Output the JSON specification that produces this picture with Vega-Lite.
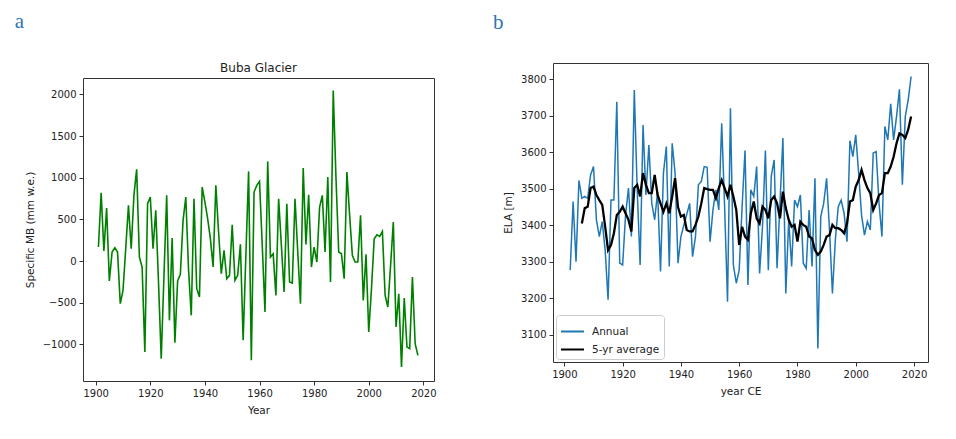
{
  "$schema": "https://vega.github.io/schema/vega-lite/v6.json",
  "background": "white",
  "padding": {"left": 14, "top": 10, "right": 0, "bottom": 0},
  "spacing": 56,
  "resolve": {"legend": {"color": "independent"}, "scale": {"color": "independent"}},
  "datasets": {
    "mb": [
      {"year":1901,"mb":168},{"year":1902,"mb":820},{"year":1903,"mb":120},{"year":1904,"mb":636},{"year":1905,"mb":-240},{"year":1906,"mb":108},{"year":1907,"mb":160},{"year":1908,"mb":108},{"year":1909,"mb":-512},{"year":1910,"mb":-352},
      {"year":1911,"mb":150},{"year":1912,"mb":668},{"year":1913,"mb":148},{"year":1914,"mb":788},{"year":1915,"mb":1100},{"year":1916,"mb":48},{"year":1917,"mb":-72},{"year":1918,"mb":-1092},{"year":1919,"mb":688},{"year":1920,"mb":768},
      {"year":1921,"mb":148},{"year":1922,"mb":608},{"year":1923,"mb":-250},{"year":1924,"mb":-1172},{"year":1925,"mb":-180},{"year":1926,"mb":788},{"year":1927,"mb":-712},{"year":1928,"mb":276},{"year":1929,"mb":-980},{"year":1930,"mb":-240},
      {"year":1931,"mb":-160},{"year":1932,"mb":488},{"year":1933,"mb":768},{"year":1934,"mb":-100},{"year":1935,"mb":-652},{"year":1936,"mb":748},{"year":1937,"mb":-332},{"year":1938,"mb":-432},{"year":1939,"mb":888},{"year":1940,"mb":708},
      {"year":1941,"mb":508},{"year":1942,"mb":268},{"year":1943,"mb":-72},{"year":1944,"mb":908},{"year":1945,"mb":348},{"year":1946,"mb":-152},{"year":1947,"mb":128},{"year":1948,"mb":-212},{"year":1949,"mb":-172},{"year":1950,"mb":436},
      {"year":1951,"mb":-232},{"year":1952,"mb":-172},{"year":1953,"mb":200},{"year":1954,"mb":-952},{"year":1955,"mb":68},{"year":1956,"mb":1076},{"year":1957,"mb":-1192},{"year":1958,"mb":828},{"year":1959,"mb":908},{"year":1960,"mb":956},
      {"year":1961,"mb":188},{"year":1962,"mb":-612},{"year":1963,"mb":1196},{"year":1964,"mb":48},{"year":1965,"mb":88},{"year":1966,"mb":-412},{"year":1967,"mb":748},{"year":1968,"mb":188},{"year":1969,"mb":-372},{"year":1970,"mb":688},
      {"year":1971,"mb":-252},{"year":1972,"mb":-264},{"year":1973,"mb":748},{"year":1974,"mb":108},{"year":1975,"mb":-512},{"year":1976,"mb":1116},{"year":1977,"mb":200},{"year":1978,"mb":796},{"year":1979,"mb":-72},{"year":1980,"mb":168},
      {"year":1981,"mb":-12},{"year":1982,"mb":648},{"year":1983,"mb":788},{"year":1984,"mb":108},{"year":1985,"mb":1008},{"year":1986,"mb":-252},{"year":1987,"mb":2048},{"year":1988,"mb":1000},{"year":1989,"mb":108},{"year":1990,"mb":88},
      {"year":1991,"mb":-212},{"year":1992,"mb":1068},{"year":1993,"mb":548},{"year":1994,"mb":68},{"year":1995,"mb":-12},{"year":1996,"mb":-12},{"year":1997,"mb":548},{"year":1998,"mb":-472},{"year":1999,"mb":80},{"year":2000,"mb":-852},
      {"year":2001,"mb":-332},{"year":2002,"mb":268},{"year":2003,"mb":316},{"year":2004,"mb":296},{"year":2005,"mb":356},{"year":2006,"mb":-412},{"year":2007,"mb":-552},{"year":2008,"mb":-52},{"year":2009,"mb":468},{"year":2010,"mb":-792},
      {"year":2011,"mb":-392},{"year":2012,"mb":-1272},{"year":2013,"mb":-444},{"year":2014,"mb":-1032},{"year":2015,"mb":-1052},{"year":2016,"mb":-192},{"year":2017,"mb":-992},{"year":2018,"mb":-1132}
    ],
    "ela": [
      {"year":1902,"ela":3277,"series":"Annual"},{"year":1903,"ela":3465,"series":"Annual"},{"year":1904,"ela":3300,"series":"Annual"},{"year":1905,"ela":3523,"series":"Annual"},{"year":1906,"ela":3474,"series":"Annual"},{"year":1907,"ela":3479,"series":"Annual"},{"year":1908,"ela":3474,"series":"Annual"},{"year":1909,"ela":3538,"series":"Annual"},{"year":1910,"ela":3561,"series":"Annual"},
      {"year":1911,"ela":3415,"series":"Annual"},{"year":1912,"ela":3369,"series":"Annual"},{"year":1913,"ela":3410,"series":"Annual"},{"year":1914,"ela":3332,"series":"Annual"},{"year":1915,"ela":3196,"series":"Annual"},{"year":1916,"ela":3469,"series":"Annual"},{"year":1917,"ela":3469,"series":"Annual"},{"year":1918,"ela":3739,"series":"Annual"},{"year":1919,"ela":3296,"series":"Annual"},{"year":1920,"ela":3291,"series":"Annual"},
      {"year":1921,"ela":3428,"series":"Annual"},{"year":1922,"ela":3502,"series":"Annual"},{"year":1923,"ela":3369,"series":"Annual"},{"year":1924,"ela":3771,"series":"Annual"},{"year":1925,"ela":3497,"series":"Annual"},{"year":1926,"ela":3291,"series":"Annual"},{"year":1927,"ela":3675,"series":"Annual"},{"year":1928,"ela":3483,"series":"Annual"},{"year":1929,"ela":3620,"series":"Annual"},{"year":1930,"ela":3460,"series":"Annual"},
      {"year":1931,"ela":3415,"series":"Annual"},{"year":1932,"ela":3492,"series":"Annual"},{"year":1933,"ela":3273,"series":"Annual"},{"year":1934,"ela":3543,"series":"Annual"},{"year":1935,"ela":3616,"series":"Annual"},{"year":1936,"ela":3287,"series":"Annual"},{"year":1937,"ela":3625,"series":"Annual"},{"year":1938,"ela":3543,"series":"Annual"},{"year":1939,"ela":3296,"series":"Annual"},{"year":1940,"ela":3369,"series":"Annual"},
      {"year":1941,"ela":3400,"series":"Annual"},{"year":1942,"ela":3430,"series":"Annual"},{"year":1943,"ela":3460,"series":"Annual"},{"year":1944,"ela":3314,"series":"Annual"},{"year":1945,"ela":3369,"series":"Annual"},{"year":1946,"ela":3511,"series":"Annual"},{"year":1947,"ela":3520,"series":"Annual"},{"year":1948,"ela":3561,"series":"Annual"},{"year":1949,"ela":3559,"series":"Annual"},{"year":1950,"ela":3355,"series":"Annual"},
      {"year":1951,"ela":3442,"series":"Annual"},{"year":1952,"ela":3497,"series":"Annual"},{"year":1953,"ela":3442,"series":"Annual"},{"year":1954,"ela":3680,"series":"Annual"},{"year":1955,"ela":3451,"series":"Annual"},{"year":1956,"ela":3190,"series":"Annual"},{"year":1957,"ela":3721,"series":"Annual"},{"year":1958,"ela":3291,"series":"Annual"},{"year":1959,"ela":3241,"series":"Annual"},{"year":1960,"ela":3277,"series":"Annual"},
      {"year":1961,"ela":3451,"series":"Annual"},{"year":1962,"ela":3605,"series":"Annual"},{"year":1963,"ela":3236,"series":"Annual"},{"year":1964,"ela":3497,"series":"Annual"},{"year":1965,"ela":3479,"series":"Annual"},{"year":1966,"ela":3561,"series":"Annual"},{"year":1967,"ela":3268,"series":"Annual"},{"year":1968,"ela":3396,"series":"Annual"},{"year":1969,"ela":3605,"series":"Annual"},{"year":1970,"ela":3277,"series":"Annual"},
      {"year":1971,"ela":3534,"series":"Annual"},{"year":1972,"ela":3579,"series":"Annual"},{"year":1973,"ela":3282,"series":"Annual"},{"year":1974,"ela":3460,"series":"Annual"},{"year":1975,"ela":3639,"series":"Annual"},{"year":1976,"ela":3213,"series":"Annual"},{"year":1977,"ela":3415,"series":"Annual"},{"year":1978,"ela":3287,"series":"Annual"},{"year":1979,"ela":3469,"series":"Annual"},{"year":1980,"ela":3451,"series":"Annual"},
      {"year":1981,"ela":3483,"series":"Annual"},{"year":1982,"ela":3296,"series":"Annual"},{"year":1983,"ela":3282,"series":"Annual"},{"year":1984,"ela":3442,"series":"Annual"},{"year":1985,"ela":3287,"series":"Annual"},{"year":1986,"ela":3529,"series":"Annual"},{"year":1987,"ela":3062,"series":"Annual"},{"year":1988,"ela":3424,"series":"Annual"},{"year":1989,"ela":3460,"series":"Annual"},{"year":1990,"ela":3529,"series":"Annual"},
      {"year":1991,"ela":3387,"series":"Annual"},{"year":1992,"ela":3213,"series":"Annual"},{"year":1993,"ela":3360,"series":"Annual"},{"year":1994,"ela":3451,"series":"Annual"},{"year":1995,"ela":3469,"series":"Annual"},{"year":1996,"ela":3433,"series":"Annual"},{"year":1997,"ela":3355,"series":"Annual"},{"year":1998,"ela":3632,"series":"Annual"},{"year":1999,"ela":3588,"series":"Annual"},{"year":2000,"ela":3648,"series":"Annual"},
      {"year":2001,"ela":3543,"series":"Annual"},{"year":2002,"ela":3428,"series":"Annual"},{"year":2003,"ela":3373,"series":"Annual"},{"year":2004,"ela":3410,"series":"Annual"},{"year":2005,"ela":3387,"series":"Annual"},{"year":2006,"ela":3598,"series":"Annual"},{"year":2007,"ela":3602,"series":"Annual"},{"year":2008,"ela":3460,"series":"Annual"},{"year":2009,"ela":3369,"series":"Annual"},{"year":2010,"ela":3671,"series":"Annual"},
      {"year":2011,"ela":3634,"series":"Annual"},{"year":2012,"ela":3733,"series":"Annual"},{"year":2013,"ela":3634,"series":"Annual"},{"year":2014,"ela":3698,"series":"Annual"},{"year":2015,"ela":3773,"series":"Annual"},{"year":2016,"ela":3511,"series":"Annual"},{"year":2017,"ela":3698,"series":"Annual"},{"year":2018,"ela":3744,"series":"Annual"},{"year":2019,"ela":3808,"series":"Annual"},
      {"year":1906,"ela":3405,"series":"5-yr average"},{"year":1907,"ela":3447,"series":"5-yr average"},{"year":1908,"ela":3451,"series":"5-yr average"},{"year":1909,"ela":3502,"series":"5-yr average"},{"year":1910,"ela":3506,"series":"5-yr average"},
      {"year":1911,"ela":3483,"series":"5-yr average"},{"year":1912,"ela":3469,"series":"5-yr average"},{"year":1913,"ela":3456,"series":"5-yr average"},{"year":1914,"ela":3396,"series":"5-yr average"},{"year":1915,"ela":3332,"series":"5-yr average"},{"year":1916,"ela":3346,"series":"5-yr average"},{"year":1917,"ela":3378,"series":"5-yr average"},{"year":1918,"ela":3428,"series":"5-yr average"},{"year":1919,"ela":3437,"series":"5-yr average"},{"year":1920,"ela":3451,"series":"5-yr average"},
      {"year":1921,"ela":3433,"series":"5-yr average"},{"year":1922,"ela":3415,"series":"5-yr average"},{"year":1923,"ela":3383,"series":"5-yr average"},{"year":1924,"ela":3502,"series":"5-yr average"},{"year":1925,"ela":3511,"series":"5-yr average"},{"year":1926,"ela":3479,"series":"5-yr average"},{"year":1927,"ela":3543,"series":"5-yr average"},{"year":1928,"ela":3511,"series":"5-yr average"},{"year":1929,"ela":3488,"series":"5-yr average"},{"year":1930,"ela":3488,"series":"5-yr average"},
      {"year":1931,"ela":3538,"series":"5-yr average"},{"year":1932,"ela":3483,"series":"5-yr average"},{"year":1933,"ela":3460,"series":"5-yr average"},{"year":1934,"ela":3437,"series":"5-yr average"},{"year":1935,"ela":3460,"series":"5-yr average"},{"year":1936,"ela":3433,"series":"5-yr average"},{"year":1937,"ela":3479,"series":"5-yr average"},{"year":1938,"ela":3529,"series":"5-yr average"},{"year":1939,"ela":3450,"series":"5-yr average"},{"year":1940,"ela":3424,"series":"5-yr average"},
      {"year":1941,"ela":3428,"series":"5-yr average"},{"year":1942,"ela":3387,"series":"5-yr average"},{"year":1943,"ela":3383,"series":"5-yr average"},{"year":1944,"ela":3383,"series":"5-yr average"},{"year":1945,"ela":3401,"series":"5-yr average"},{"year":1946,"ela":3424,"series":"5-yr average"},{"year":1947,"ela":3460,"series":"5-yr average"},{"year":1948,"ela":3502,"series":"5-yr average"},{"year":1949,"ela":3499,"series":"5-yr average"},{"year":1950,"ela":3497,"series":"5-yr average"},
      {"year":1951,"ela":3497,"series":"5-yr average"},{"year":1952,"ela":3474,"series":"5-yr average"},{"year":1953,"ela":3502,"series":"5-yr average"},{"year":1954,"ela":3524,"series":"5-yr average"},{"year":1955,"ela":3502,"series":"5-yr average"},{"year":1956,"ela":3479,"series":"5-yr average"},{"year":1957,"ela":3511,"series":"5-yr average"},{"year":1958,"ela":3479,"series":"5-yr average"},{"year":1959,"ela":3442,"series":"5-yr average"},{"year":1960,"ela":3346,"series":"5-yr average"},
      {"year":1961,"ela":3396,"series":"5-yr average"},{"year":1962,"ela":3369,"series":"5-yr average"},{"year":1963,"ela":3360,"series":"5-yr average"},{"year":1964,"ela":3433,"series":"5-yr average"},{"year":1965,"ela":3465,"series":"5-yr average"},{"year":1966,"ela":3419,"series":"5-yr average"},{"year":1967,"ela":3405,"series":"5-yr average"},{"year":1968,"ela":3451,"series":"5-yr average"},{"year":1969,"ela":3442,"series":"5-yr average"},{"year":1970,"ela":3419,"series":"5-yr average"},
      {"year":1971,"ela":3469,"series":"5-yr average"},{"year":1972,"ela":3479,"series":"5-yr average"},{"year":1973,"ela":3460,"series":"5-yr average"},{"year":1974,"ela":3419,"series":"5-yr average"},{"year":1975,"ela":3492,"series":"5-yr average"},{"year":1976,"ela":3447,"series":"5-yr average"},{"year":1977,"ela":3415,"series":"5-yr average"},{"year":1978,"ela":3396,"series":"5-yr average"},{"year":1979,"ela":3401,"series":"5-yr average"},{"year":1980,"ela":3355,"series":"5-yr average"},
      {"year":1981,"ela":3410,"series":"5-yr average"},{"year":1982,"ela":3401,"series":"5-yr average"},{"year":1983,"ela":3396,"series":"5-yr average"},{"year":1984,"ela":3369,"series":"5-yr average"},{"year":1985,"ela":3364,"series":"5-yr average"},{"year":1986,"ela":3332,"series":"5-yr average"},{"year":1987,"ela":3319,"series":"5-yr average"},{"year":1988,"ela":3328,"series":"5-yr average"},{"year":1989,"ela":3346,"series":"5-yr average"},{"year":1990,"ela":3369,"series":"5-yr average"},
      {"year":1991,"ela":3373,"series":"5-yr average"},{"year":1992,"ela":3401,"series":"5-yr average"},{"year":1993,"ela":3392,"series":"5-yr average"},{"year":1994,"ela":3392,"series":"5-yr average"},{"year":1995,"ela":3387,"series":"5-yr average"},{"year":1996,"ela":3378,"series":"5-yr average"},{"year":1997,"ela":3405,"series":"5-yr average"},{"year":1998,"ela":3465,"series":"5-yr average"},{"year":1999,"ela":3469,"series":"5-yr average"},{"year":2000,"ela":3506,"series":"5-yr average"},
      {"year":2001,"ela":3524,"series":"5-yr average"},{"year":2002,"ela":3552,"series":"5-yr average"},{"year":2003,"ela":3524,"series":"5-yr average"},{"year":2004,"ela":3502,"series":"5-yr average"},{"year":2005,"ela":3488,"series":"5-yr average"},{"year":2006,"ela":3442,"series":"5-yr average"},{"year":2007,"ela":3460,"series":"5-yr average"},{"year":2008,"ela":3483,"series":"5-yr average"},{"year":2009,"ela":3488,"series":"5-yr average"},{"year":2010,"ela":3543,"series":"5-yr average"},
      {"year":2011,"ela":3543,"series":"5-yr average"},{"year":2012,"ela":3561,"series":"5-yr average"},{"year":2013,"ela":3588,"series":"5-yr average"},{"year":2014,"ela":3625,"series":"5-yr average"},{"year":2015,"ela":3652,"series":"5-yr average"},{"year":2016,"ela":3648,"series":"5-yr average"},{"year":2017,"ela":3639,"series":"5-yr average"},{"year":2018,"ela":3662,"series":"5-yr average"},{"year":2019,"ela":3698,"series":"5-yr average"}
    ]
  },
  "hconcat": [
    {
      "title": {"text": "a", "anchor": "start", "frame": "bounds", "font": "Liberation Serif", "fontSize": 21, "fontWeight": "normal", "color": "#2e75b6", "dx": -10, "offset": 30},
      "spacing": -3,
      "vconcat": [
        {"width": 351, "height": 1, "data": {"values": []}, "mark": "point", "view": {"stroke": null}},
        {
          "title": {"text": "Buba Glacier", "font": "DejaVu Sans", "fontSize": 12, "fontWeight": "normal", "color": "#222", "anchor": "middle", "offset": 3},
          "width": 351,
          "height": 303,
          "data": {"name": "mb"},
          "mark": {"type": "line", "color": "#008000", "strokeWidth": 1.6},
          "encoding": {
            "x": {"field": "year", "type": "quantitative", "scale": {"domain": [1895.35, 2023.9], "nice": false, "zero": false}, "axis": {"values": [1900, 1920, 1940, 1960, 1980, 2000, 2020], "format": "d", "title": "Year"}},
            "y": {"field": "mb", "type": "quantitative", "scale": {"domain": [-1440, 2197], "nice": false, "zero": false}, "axis": {"values": [-1000, -500, 0, 500, 1000, 1500, 2000], "format": "d", "title": "Specific MB (mm w.e.)"}}
          }
        }
      ]
    },
    {
      "title": {"text": "b", "anchor": "start", "frame": "bounds", "font": "Liberation Serif", "fontSize": 21, "fontWeight": "normal", "color": "#2e75b6", "dx": -10, "offset": 30},
      "resolve": {"legend": {"color": "independent"}, "scale": {"color": "independent"}},
      "vconcat": [
        {
          "width": 375,
          "height": 299,
          "data": {"name": "ela"},
          "encoding": {
            "x": {"field": "year", "type": "quantitative", "scale": {"domain": [1896.1, 2024.8], "nice": false, "zero": false}, "axis": {"values": [1900, 1920, 1940, 1960, 1980, 2000, 2020], "format": "d", "title": "year CE"}},
            "y": {"field": "ela", "type": "quantitative", "scale": {"domain": [3025, 3845], "nice": false, "zero": false}, "axis": {"values": [3100, 3200, 3300, 3400, 3500, 3600, 3700, 3800], "format": "d", "title": "ELA [m]"}},
            "color": {"field": "series", "type": "nominal", "scale": {"domain": ["Annual", "5-yr average"], "range": ["#1f77b4", "#000000"]},
              "legend": {"title": null, "orient": "bottom-left", "offset": 3, "symbolType": "stroke", "symbolStrokeWidth": 2, "symbolSize": 529, "labelFontSize": 10.5, "labelFont": "DejaVu Sans", "labelColor": "#222", "fillColor": "white", "strokeColor": "#cccccc", "cornerRadius": 3, "padding": 4, "rowPadding": 0, "labelOffset": 7}}
          },
          "layer": [
            {"transform": [{"filter": "datum.series == 'Annual'"}], "mark": {"type": "line", "strokeWidth": 1.5}},
            {"transform": [{"filter": "datum.series == '5-yr average'"}], "mark": {"type": "line", "strokeWidth": 2.3}}
          ]
        }
      ]
    }
  ],
  "config": {
    "font": "DejaVu Sans",
    "view": {"stroke": "#333", "strokeWidth": 1},
    "axis": {"grid": false, "domain": false, "ticks": true, "tickColor": "#333", "tickSize": 4, "labelFont": "DejaVu Sans", "labelFontSize": 10, "labelColor": "#222", "labelPadding": 3, "labelFlush": false, "labelOverlap": false, "titleFont": "DejaVu Sans", "titleFontSize": 10.5, "titleFontWeight": "normal", "titleColor": "#222", "titlePadding": 7}
  }
}
